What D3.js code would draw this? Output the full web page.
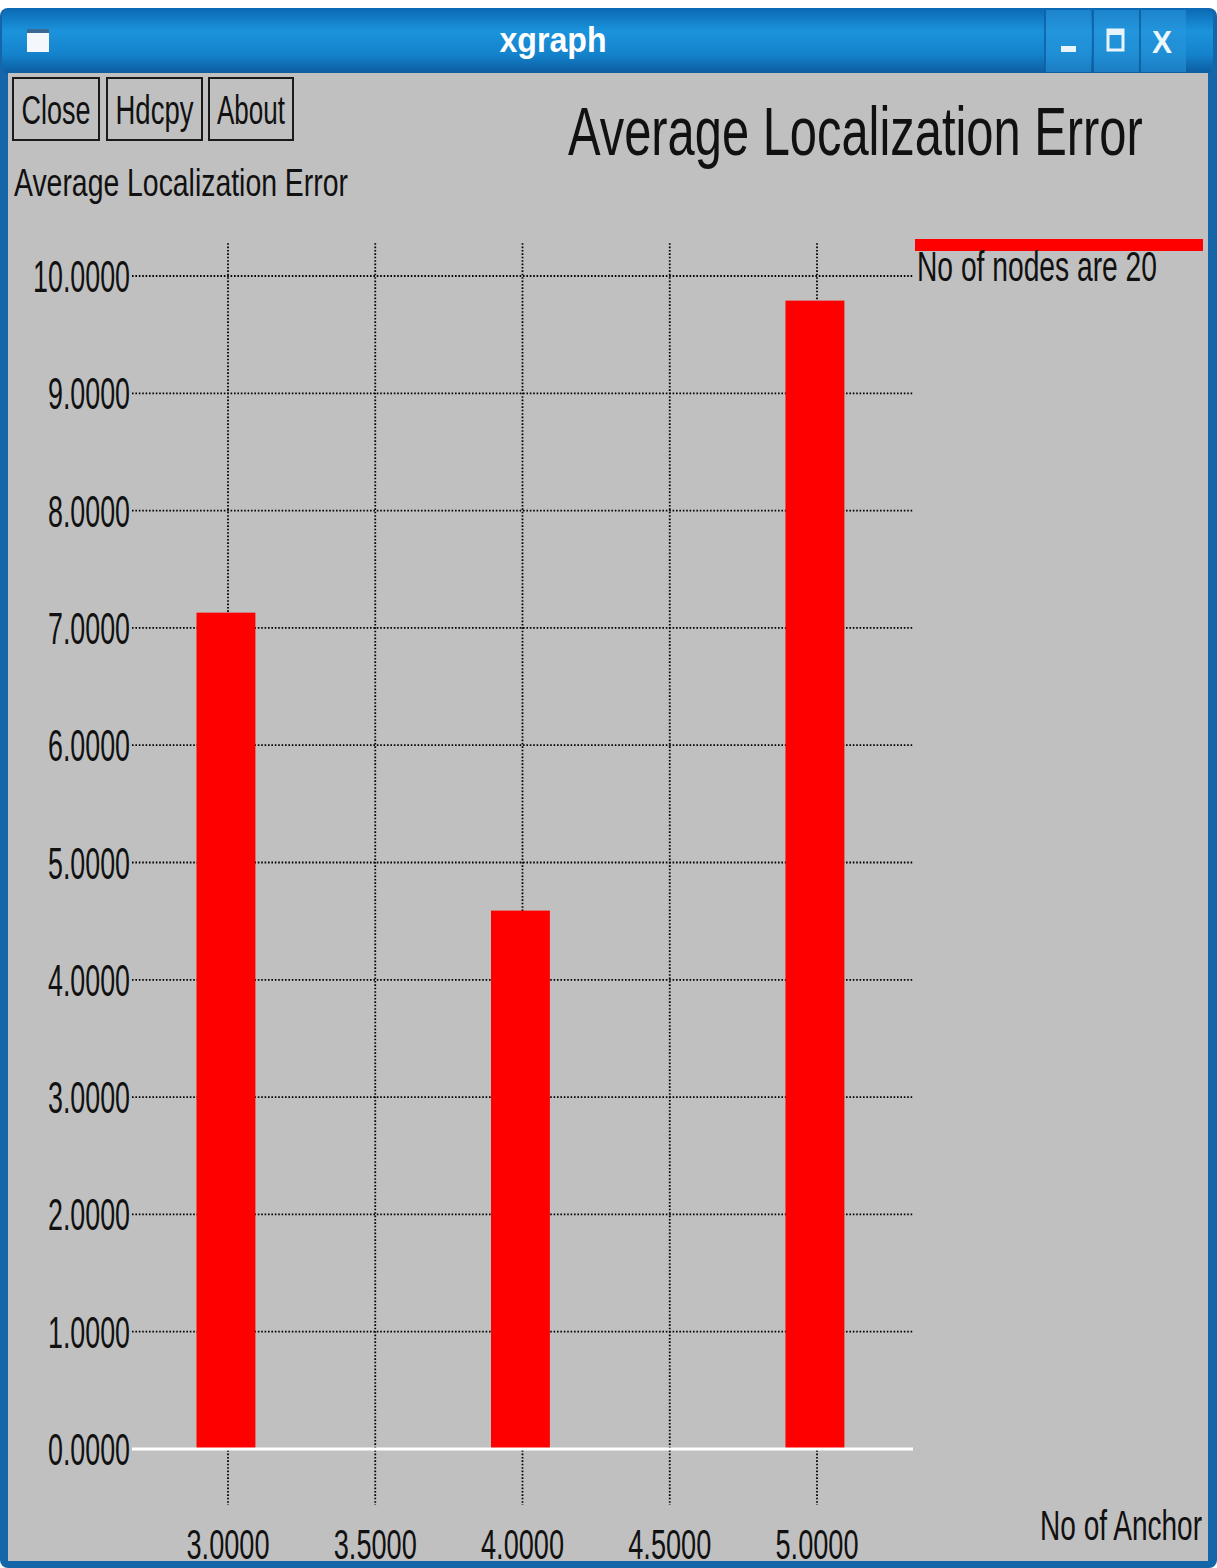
<!DOCTYPE html>
<html>
<head>
<meta charset="utf-8">
<script src="https://cdn.jsdelivr.net/npm/d3@7"></script>
<style>
  html, body { margin: 0; padding: 0; background: #ffffff; }
  svg { display: block; }
  text { font-family: "Liberation Sans", Arial, sans-serif; }
</style>
</head>
<body>
<div id="chart"></div>
<script>
// ---- data ----
const anchors = [3.0, 4.0, 5.0];
const errors = [7.13, 4.59, 9.79];
const seriesName = "No of nodes are 20";
const xTicks = [3.0, 3.5, 4.0, 4.5, 5.0];
const yTicks = [0, 1, 2, 3, 4, 5, 6, 7, 8, 9, 10];
const windowTitle = "xgraph";
const chartTitle = "Average Localization Error";
const yAxisLabel = "Average Localization Error";
const xAxisLabel = "No of Anchor";
const buttons = ["Close", "Hdcpy", "About"];

// ---- layout ----
const W = 1217, H = 1568;
const svg = d3.select("#chart").append("svg").attr("width", W).attr("height", H);

const plot = { left: 132, right: 913, top: 276, bottom: 1449 };
const x = d3.scaleLinear().domain([2.674, 5.326]).range([plot.left, plot.right]);
const y = d3.scaleLinear().domain([0, 10]).range([plot.bottom, plot.top]);
const barHalf = 0.1; // bar half-width in data units
const barShift = -0.007; // bars drawn very slightly left of their tick

// condensed text: natural glyphs squeezed horizontally to a target width
function ctext(parent, px, py, str, size, width, anchor, opts = {}) {
  const t = parent.append("text")
    .attr("x", 0).attr("y", 0)
    .attr("font-size", size)
    .attr("text-anchor", anchor || "start")
    .attr("fill", opts.fill || "#111")
    .attr("font-weight", opts.weight || "normal")
    .text(str);
  const len = t.node().getComputedTextLength();
  const sx = width && len ? width / len : 1;
  t.attr("transform", `translate(${px},${py}) scale(${sx},1)`);
  return t;
}

// ---- window frame ----
const defs = svg.append("defs");
const grad = defs.append("linearGradient").attr("id", "tb").attr("x1", 0).attr("y1", 0).attr("x2", 0).attr("y2", 1);
grad.append("stop").attr("offset", "0%").attr("stop-color", "#0b68b3");
grad.append("stop").attr("offset", "35%").attr("stop-color", "#1b93dc");
grad.append("stop").attr("offset", "70%").attr("stop-color", "#1483cc");
grad.append("stop").attr("offset", "100%").attr("stop-color", "#0c5a9e");

svg.append("rect").attr("x", 0).attr("y", 0).attr("width", W).attr("height", H).attr("fill", "#ffffff");
svg.append("rect").attr("x", 0).attr("y", 8).attr("width", W).attr("height", H - 8).attr("rx", 8).attr("fill", "#1466a8");
svg.append("rect").attr("x", 2).attr("y", 8).attr("width", W - 6).attr("height", 66).attr("rx", 8).attr("fill", "url(#tb)");
// client area
svg.append("rect").attr("x", 8).attr("y", 73).attr("width", W - 17).attr("height", H - 73 - 7).attr("fill", "#c0c0c0");

// title bar contents
svg.append("rect").attr("x", 27).attr("y", 29).attr("width", 22).attr("height", 23).attr("fill", "#f4f8fc");
svg.append("rect").attr("x", 27).attr("y", 29).attr("width", 22).attr("height", 4).attr("fill", "#3a6a94");
ctext(svg, 553, 52, windowTitle, 36, 107, "middle", { fill: "#ffffff", weight: "bold" });
const tbBtns = [1045, 1093, 1140];
tbBtns.forEach(bx => {
  svg.append("rect").attr("x", bx).attr("y", 10).attr("width", 46).attr("height", 62).attr("fill", "#2a98dc").attr("opacity", 0.55);
  svg.append("line").attr("x1", bx).attr("x2", bx).attr("y1", 10).attr("y2", 72).attr("stroke", "#0d5d9e").attr("stroke-width", 1.5);
});
svg.append("rect").attr("x", 1061).attr("y", 46).attr("width", 15).attr("height", 6).attr("fill", "#e8f4fc");
svg.append("rect").attr("x", 1108).attr("y", 30).attr("width", 15).attr("height", 20).attr("fill", "none").attr("stroke", "#e8f4fc").attr("stroke-width", 3);
svg.append("rect").attr("x", 1108).attr("y", 30).attr("width", 15).attr("height", 5).attr("fill", "#e8f4fc");
ctext(svg, 1162, 53, "X", 32, 20, "middle", { fill: "#eef7fd", weight: "bold" });

// ---- buttons ----
const btnBoxes = [[13, 86], [107, 95], [209, 84]];
const btnTextW = [69, 78, 68];
buttons.forEach((b, i) => {
  const [bx, bw] = btnBoxes[i];
  svg.append("rect").attr("x", bx).attr("y", 78).attr("width", bw).attr("height", 62)
    .attr("fill", "none").attr("stroke", "#1a1a1a").attr("stroke-width", 2);
  ctext(svg, bx + bw / 2, 124, b, 40, btnTextW[i], "middle");
});

// ---- titles ----
ctext(svg, 568, 155, chartTitle, 69, 575, "start");
ctext(svg, 14, 196, yAxisLabel, 38, 334, "start");
ctext(svg, 1202, 1540, xAxisLabel, 42, 162, "end");

// ---- grid ----
const dot = { stroke: "#000000", width: 1.8, dash: "1.6,1.8" };
const g = svg.append("g");
// horizontal grid lines
g.selectAll(".hg").data(yTicks.filter(d => d !== 0)).enter().append("line")
  .attr("x1", plot.left).attr("x2", plot.right)
  .attr("y1", d => y(d)).attr("y2", d => y(d))
  .attr("stroke", dot.stroke).attr("stroke-width", dot.width).attr("stroke-dasharray", dot.dash);
// vertical grid lines
g.selectAll(".vg").data(xTicks).enter().append("line")
  .attr("x1", d => x(d)).attr("x2", d => x(d))
  .attr("y1", y(10.28)).attr("y2", y(-0.477))
  .attr("stroke", dot.stroke).attr("stroke-width", dot.width).attr("stroke-dasharray", dot.dash);

// ---- bars ----
g.selectAll(".bar").data(anchors).enter().append("rect")
  .attr("x", (d) => x(d + barShift - barHalf))
  .attr("width", (d) => x(d + barHalf) - x(d - barHalf))
  .attr("y", (d, i) => y(errors[i]))
  .attr("height", (d, i) => y(0) - y(errors[i]))
  .attr("fill", "#ff0000");

// zero axis line (white)
g.append("line").attr("x1", plot.left).attr("x2", plot.right)
  .attr("y1", y(0)).attr("y2", y(0))
  .attr("stroke", "#ffffff").attr("stroke-width", 3);

// ---- tick labels ----
const fmt = d3.format(".4f");
yTicks.forEach(d => {
  ctext(g, plot.left - 2, y(d) + 16, fmt(d), 44, d >= 10 ? 97 : 82, "end");
});
xTicks.forEach(d => {
  ctext(g, x(d), 1559, fmt(d), 43, 83, "middle");
});

// ---- legend ----
svg.append("line").attr("x1", 915).attr("x2", 1203).attr("y1", 245).attr("y2", 245)
  .attr("stroke", "#ff0000").attr("stroke-width", 12);
ctext(svg, 917, 281, seriesName, 42, 240, "start");
</script>
</body>
</html>
